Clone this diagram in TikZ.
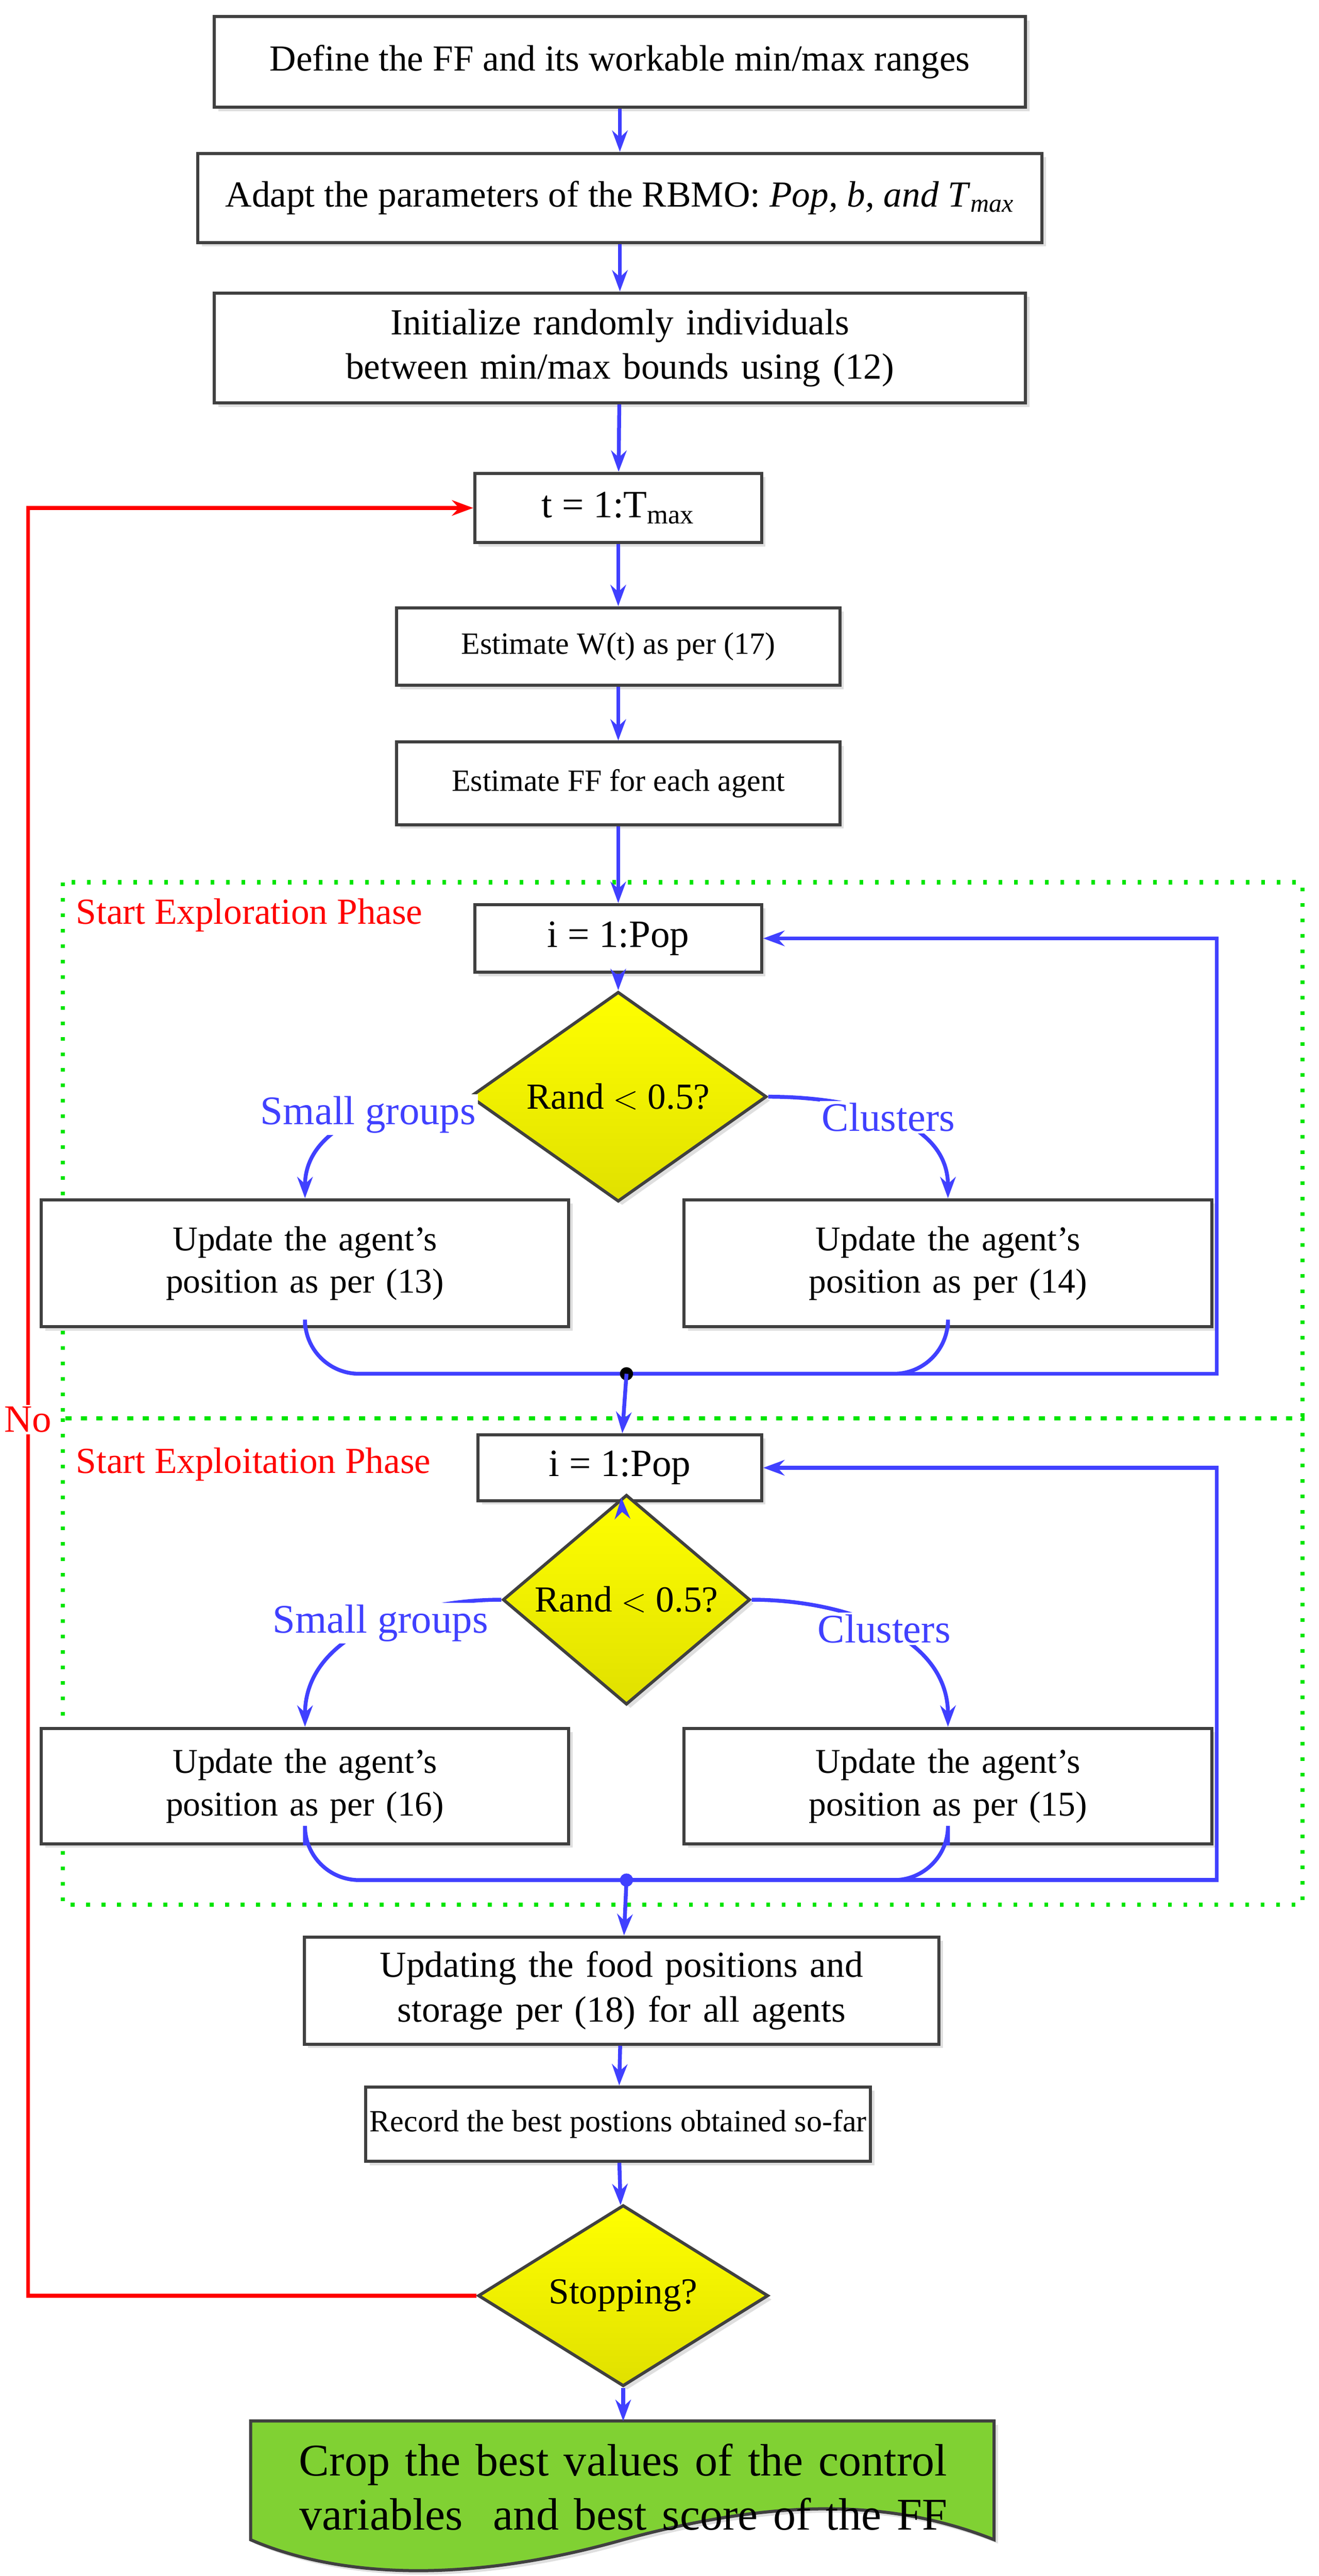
\documentclass[tikz,border=0pt]{standalone}
\usepackage{fontspec}
\setmainfont{Liberation Serif}
\usetikzlibrary{arrows.meta,calc,positioning,shapes,shadows}

\begin{document}
\begin{tikzpicture}[x=0.03cm,y=-0.03cm,
    every node/.style={font=\fontsize{19}{23}\selectfont},
    box/.style={draw=black!75,line width=1.6pt,fill=white,align=center,inner sep=2pt,
      drop shadow={opacity=0.25,shadow xshift=2pt,shadow yshift=-2pt}},
    cond/.style={diamond,draw=black!75,line width=1.6pt,top color=yellow,bottom color=yellow!88!black,
      inner sep=0pt,drop shadow={opacity=0.25,shadow xshift=2pt,shadow yshift=-2pt}},
    flow/.style={draw=blue!75!white,line width=2pt,-{Stealth[length=11pt,width=8pt]}},
    line/.style={draw=blue!75!white,line width=2pt,rounded corners=28},
    branch/.style={text=blue!75!white,fill=white,inner sep=1pt,font=\fontsize{21}{25}\selectfont},
    phase/.style={text=red,anchor=west},
    frame/.style={draw=green!90!black,line width=2.2pt,dash pattern=on 2pt off 6pt}]

    \useasboundingbox (0,0) rectangle (800,1562);
    \hyphenpenalty=10000

    % phases
    \draw[frame] (38,535) rectangle (790,860);
    \draw[frame] (38,860) rectangle (790,1155);
    \node[phase] (EXPLORE) at (42,555) {Start Exploration Phase};
    \node[phase] (EXPLOIT) at (42,888) {Start Exploitation Phase};

    % main chain
    \node[box,minimum width=14.76cm,minimum height=1.65cm] (DEFINE) at (376,37.5) {Define the FF and its workable min/max ranges};
    \node[box,minimum width=15.36cm,minimum height=1.62cm] (ADAPT) at (376,120) {Adapt the parameters of the RBMO: \textit{Pop, b, and} \textit{T}\textsubscript{\textit{max}}};
    \node[box,minimum width=14.76cm,minimum height=2cm,text width=13.8cm] (INIT) at (376,211) {Initialize randomly individuals between min/max bounds using (12)};
    \node[box,minimum width=5.22cm,minimum height=1.26cm,font=\fontsize{20}{24}\selectfont] (TLOOP) at (375,308) {t = 1:T\textsubscript{max}};
    \node[box,minimum width=8.07cm,minimum height=1.41cm,font=\fontsize{16}{19}\selectfont] (WEIGHT) at (375,392) {Estimate W(t) as per (17)};
    \node[box,minimum width=8.07cm,minimum height=1.5cm,font=\fontsize{16}{19}\selectfont] (FIT) at (375,475) {Estimate FF for each agent};

    % exploration
    \node[box,minimum width=5.22cm,minimum height=1.23cm,font=\fontsize{20}{24}\selectfont] (POP1) at (375,569) {i = 1:Pop};
    \node[cond,minimum width=5.4cm,minimum height=1.68cm] (RAND1) at (375,665) {Rand $<$ 0.5?};
    \node[box,minimum width=9.6cm,minimum height=2.31cm,text width=8.8cm,font=\fontsize{18}{22}\selectfont] (UPD13) at (185,766) {Update the agent’s position as per (13)};
    \node[box,minimum width=9.6cm,minimum height=2.31cm,text width=8.8cm,font=\fontsize{18}{22}\selectfont] (UPD14) at (575,766) {Update the agent’s position as per (14)};
    \coordinate (MERGE1) at (380,833);
    \coordinate (BACK1) at (738,833);

    % exploitation
    \node[box,minimum width=5.16cm,minimum height=1.2cm,font=\fontsize{20}{24}\selectfont] (POP2) at (376,890) {i = 1:Pop};
    \node[cond,minimum width=4.5cm,minimum height=1.5cm] (RAND2) at (380,970) {Rand $<$ 0.5?};
    \node[box,minimum width=9.6cm,minimum height=2.1cm,text width=8.8cm,font=\fontsize{18}{22}\selectfont] (UPD16) at (185,1083) {Update the agent’s position as per (16)};
    \node[box,minimum width=9.6cm,minimum height=2.1cm,text width=8.8cm,font=\fontsize{18}{22}\selectfont] (UPD15) at (575,1083) {Update the agent’s position as per (15)};
    \coordinate (MERGE2) at (380,1140);
    \coordinate (BACK2) at (738,1140);

    % end of loop
    \node[box,minimum width=11.55cm,minimum height=1.95cm,text width=11.4cm] (FOOD) at (377,1207) {Updating the food positions and storage per (18) for all agents};
    \node[box,minimum width=8.07cm,minimum height=1.35cm,font=\fontsize{16}{19}\selectfont] (RECORD) at (375,1288) {Record the best postions obtained so-far};
    \node[cond,minimum width=5.28cm,minimum height=1.8cm] (STOP) at (378,1392) {Stopping?};
    \coordinate (LOOPL) at (17,1392);

    \draw[draw=black!75,line width=1.6pt,fill=green!55!black!50!lime!80,
      drop shadow={opacity=0.25,shadow xshift=2pt,shadow yshift=-2pt}]
      (152,1468) -- (603,1468) -- (603,1540) .. controls (540,1515) and (470,1515) .. (378,1540)
      .. controls (290,1565) and (210,1565) .. (152,1540) -- cycle;
    \node[text width=13.6cm,align=center,font=\fontsize{23.5}{28}\selectfont] (CROP) at (378,1508) {Crop the best values of the control variables~ and best score of the FF};

    % connectors
    \path[flow] (DEFINE) -- (ADAPT);
    \path[flow] (ADAPT) -- (INIT);
    \path[flow] (INIT) -- (TLOOP);
    \path[flow] (TLOOP) -- (WEIGHT);
    \path[flow] (WEIGHT) -- (FIT);
    \path[flow] (FIT) -- (POP1);
    \path[flow] (POP1) -- (RAND1);
    \path[flow] (RAND1.west) to[out=180,in=90] node[branch,pos=0.45] {Small groups} (UPD13.north);
    \path[flow] (RAND1.east) to[out=0,in=90] node[branch,pos=0.5] {Clusters} (UPD14.north);
    \path[line] (UPD13.south) |- (MERGE1);
    \path[line] (UPD14.south) |- (MERGE1);
    \path[flow] (MERGE1) -- (BACK1) |- (POP1.east);
    \fill (MERGE1) circle (4);
    \path[flow] (MERGE1) -- (POP2);
    \path[flow] (POP2) -- (RAND2);
    \path[flow] (RAND2.west) to[out=180,in=90] node[branch,pos=0.45] {Small groups} (UPD16.north);
    \path[flow] (RAND2.east) to[out=0,in=90] node[branch,pos=0.5] {Clusters} (UPD15.north);
    \path[line] (UPD16.south) |- (MERGE2);
    \path[line] (UPD15.south) |- (MERGE2);
    \path[flow] (MERGE2) -- (BACK2) |- (POP2.east);
    \fill[blue!75!white] (MERGE2) circle (4);
    \path[flow] (MERGE2) -- (FOOD);
    \path[flow] (FOOD) -- (RECORD);
    \path[flow] (RECORD) -- (STOP);
    \path[flow] (STOP) -- (CROP.north |- 0,1468);
    \path[draw=red,line width=2pt,-{Stealth[length=11pt,width=8pt]}] (STOP.west) -- (LOOPL)
      -- node[text=red,fill=white,inner sep=1pt,pos=0.49,font=\fontsize{20}{24}\selectfont] {No} (LOOPL |- TLOOP) -- (TLOOP.west);
\end{tikzpicture}
\end{document}
